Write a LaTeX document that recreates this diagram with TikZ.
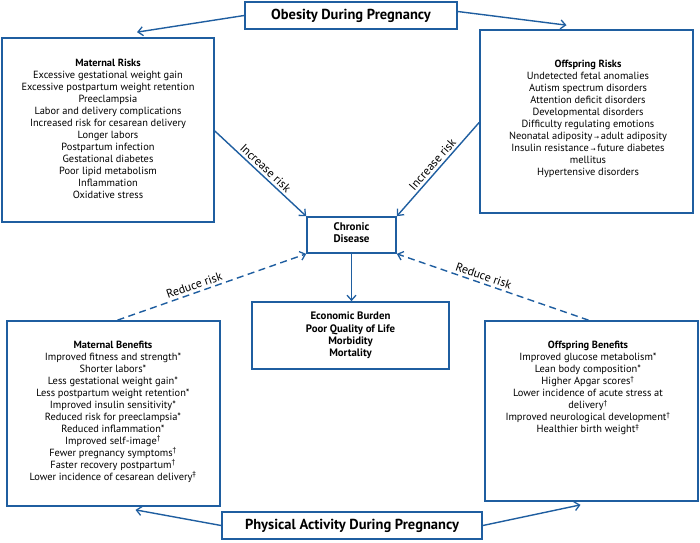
\documentclass[tikz,border=0pt]{standalone}
\usepackage{fontspec}
\setmainfont{PT Sans}
\newfontfamily\dejavu{DejaVu Sans}
\usetikzlibrary{arrows.meta}
\definecolor{lineblue}{RGB}{31,94,160}
\newcommand{\smallarr}{\,{\dejavu\fontsize{6}{6}\selectfont →}\,}
\newcommand{\dg}{\textsuperscript{†}}
\newcommand{\ddg}{\textsuperscript{‡}}
\begin{document}
\begin{tikzpicture}[x=1pt,y=-1pt,
  box/.style={draw=lineblue,line width=1.7pt,inner sep=0pt,rectangle},
  body/.style={align=center,font=\fontsize{10.4}{12}\selectfont,inner sep=0pt,anchor=north},
  titletext/.style={font=\fontsize{14.5}{16}\selectfont\bfseries},
  conn/.style={draw=lineblue,line width=1.4pt,-{Straight Barb[length=5pt,width=9pt,line width=1.3pt]}},
  dconn/.style={conn,dash pattern=on 7pt off 4.5pt},
  lab/.style={font=\fontsize{12}{14}\selectfont,sloped,above,inner sep=2.5pt}]
\useasboundingbox (0,0) rectangle (700,542);
% boxes
\node[box,minimum width=212,minimum height=27,titletext] (ob) at (351,15.5) {Obesity During Pregnancy};
\node[box,minimum width=212,minimum height=184] (mr) at (108,130) {};
\node[box,minimum width=213,minimum height=183] (or) at (586.5,121.5) {};
\node[box,minimum width=89,minimum height=36] (cd) at (351.5,235) {};
\node[box,minimum width=197,minimum height=67] (oc) at (350.5,335.5) {};
\node[box,minimum width=213,minimum height=185] (mb) at (113.5,413.5) {};
\node[box,minimum width=213,minimum height=180] (obn) at (591.5,411) {};
\node[box,minimum width=260,minimum height=27,titletext] (pa) at (352,525.5) {Physical Activity During Pregnancy};
% texts
\node[body] (mrt) at (108,59) {\textbf{Maternal Risks}\\
Excessive gestational weight gain\\
Excessive postpartum weight retention\\
Preeclampsia\\
Labor and delivery complications\\
Increased risk for cesarean delivery\\
Longer labors\\
Postpartum infection\\
Gestational diabetes\\
Poor lipid metabolism\\
Inflammation\\
Oxidative stress};
\node[body] (ort) at (588,60) {\textbf{Offspring Risks}\\
Undetected fetal anomalies\\
Autism spectrum disorders\\
Attention deficit disorders\\
Developmental disorders\\
Difficulty regulating emotions\\
Neonatal adiposity\smallarr adult adiposity\\
Insulin resistance\smallarr future diabetes\\
mellitus\\
Hypertensive disorders};
\node[body,font=\fontsize{11}{12}\selectfont\bfseries] (cdt) at (351.5,222) {Chronic\\Disease};
\node[body,font=\fontsize{10.8}{12.3}\selectfont\bfseries] (oct) at (350.5,312) {Economic Burden\\Poor Quality of Life\\Morbidity\\Mortality};
\node[body] (mbt) at (113,341) {\textbf{Maternal Benefits}\\
Improved fitness and strength*\\
Shorter labors*\\
Less gestational weight gain*\\
Less postpartum weight retention*\\
Improved insulin sensitivity*\\
Reduced risk for preeclampsia*\\
Reduced inflammation*\\
Improved self-image\dg\\
Fewer pregnancy symptoms\dg\\
Faster recovery postpartum\dg\\
Lower incidence of cesarean delivery\ddg};
\node[body] (obt) at (588,341) {\textbf{Offspring Benefits}\\
Improved glucose metabolism*\\
Lean body composition*\\
Higher Apgar scores\dg\\
Lower incidence of acute stress at\\
delivery\dg\\
Improved neurological development\dg\\
Healthier birth weight\ddg};
% connector end points
\coordinate (mrin) at ([xshift=29pt,yshift=5pt]mr.north);
\coordinate (orin) at ([xshift=-20pt,yshift=4pt]or.north);
\coordinate (mbin) at ([xshift=22pt,yshift=-3pt]mb.south);
\coordinate (obin) at ([xshift=-11pt,yshift=-3pt]obn.south);
% connectors
\draw[conn] (ob.west) -- (mrin);
\draw[conn] ([yshift=4pt]ob.east) -- (orin);
\draw[conn] ([yshift=-1pt]mr.east) -- node[lab]{Increase risk} (cd.north west);
\draw[conn] ([yshift=-1pt]or.west) -- node[lab]{Increase risk} (cd.north east);
\draw[conn] (cd.south) -- (cd.south |- oc.north);
\draw[dconn] ([xshift=4pt]mb.north) -- node[lab,pos=0.42]{Reduce risk} (cd.south west);
\draw[dconn] ([xshift=-3pt]obn.north) -- node[lab,pos=0.56]{Reduce risk} (cd.south east);
\draw[conn] (pa.west) -- (mbin);
\draw[conn] (pa.east) -- (obin);
\end{tikzpicture}
\end{document}
